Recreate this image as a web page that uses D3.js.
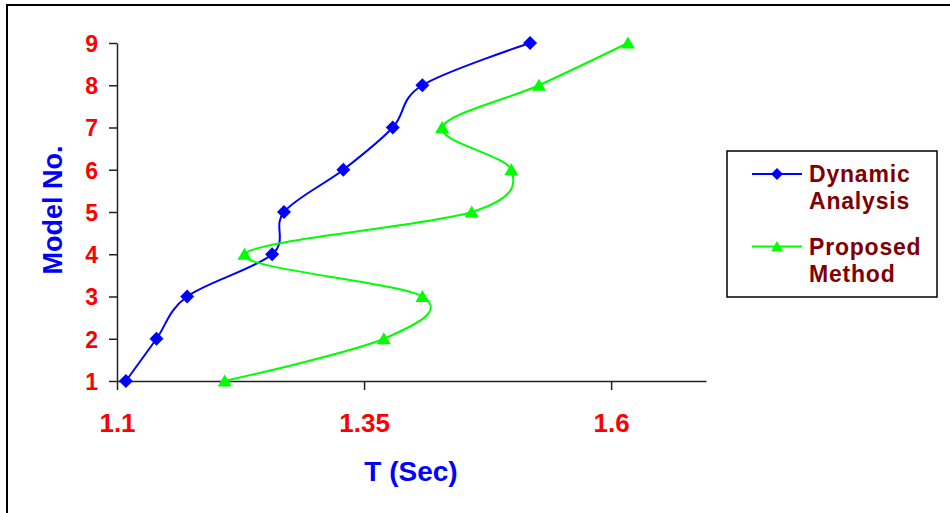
<!DOCTYPE html>
<html><head><meta charset="utf-8">
<script src="https://cdn.jsdelivr.net/npm/d3@7"></script>
<style>html,body{margin:0;padding:0;background:#fff;overflow:hidden}</style>
</head><body>
<svg id="c" width="950" height="513"></svg>
<script>
const models = [1, 2, 3, 4, 5, 6, 7, 8, 9];
const dynamicT = [1.109, 1.140, 1.171, 1.257, 1.269, 1.329, 1.379, 1.409, 1.518];
const proposedT = [1.209, 1.370, 1.409, 1.229, 1.459, 1.499, 1.429, 1.527, 1.617];
const xTicks = [1.1, 1.35, 1.6];
const xTickLabels = ["1.1", "1.35", "1.6"];
const seriesNames = [["Dynamic", "Analysis"], ["Proposed", "Method"]];

const svg = d3.select("#c");
const font = "'Liberation Sans', Arial, sans-serif";

// outer frame
svg.append("rect").attr("x", 7).attr("y", 5).attr("width", 960).attr("height", 520)
  .attr("fill", "#fff").attr("stroke", "#000").attr("stroke-width", 2);

const x = d3.scaleLinear().domain([1.1, 1.696]).range([117, 706]);
const y = d3.scaleLinear().domain([1, 9]).range([381, 43]);

// y axis
const yAxis = svg.append("g").attr("transform", "translate(117,0)")
  .call(d3.axisLeft(y).tickValues(models).tickSize(8).tickSizeOuter(0).tickPadding(11));
yAxis.select(".domain").attr("stroke", "#222").attr("stroke-width", 1.5);
yAxis.selectAll(".tick line").attr("stroke", "#222").attr("stroke-width", 1.5);
yAxis.selectAll(".tick text").attr("fill", "#ff0000").attr("font-family", font)
  .attr("font-weight", "bold").attr("font-size", 23).attr("dy", "0.36em");

// x axis
const xAxis = svg.append("g").attr("transform", "translate(0,381)")
  .call(d3.axisBottom(x).tickValues(xTicks).tickFormat((d, i) => xTickLabels[i]).tickSize(9).tickSizeOuter(0));
xAxis.select(".domain").attr("stroke", "#222").attr("stroke-width", 1.5);
xAxis.selectAll(".tick line").attr("stroke", "#222").attr("stroke-width", 1.5);
xAxis.selectAll(".tick text").attr("fill", "#ff0000").attr("font-family", font)
  .attr("font-weight", "bold").attr("font-size", 26).attr("y", 51).attr("dy", 0);

// axis titles
svg.append("text").attr("transform", "translate(62,210) rotate(-90)")
  .attr("text-anchor", "middle").attr("fill", "#0000ff").attr("font-family", font)
  .attr("font-weight", "bold").attr("font-size", 27).text("Model No.");
svg.append("text").attr("x", 411).attr("y", 481)
  .attr("text-anchor", "middle").attr("fill", "#0000ff").attr("font-family", font)
  .attr("font-weight", "bold").attr("font-size", 28).text("T (Sec)");

const line = d3.line().x(d => x(d[0])).y(d => y(d[1])).curve(d3.curveCardinal.tension(0));

const diamond = "M0,-7L7,0L0,7L-7,0Z";
const triangle = "M0,-6.5L7,5.5L-7,5.5Z";

const series = [
  {vals: dynamicT, color: "#0000ff", marker: diamond},
  {vals: proposedT, color: "#00ff00", marker: triangle}
];

series.forEach(s => {
  const pts = s.vals.map((v, i) => [v, models[i]]);
  svg.append("path").datum(pts).attr("d", line).attr("fill", "none")
    .attr("stroke", s.color).attr("stroke-width", 2);
  svg.append("g").selectAll("path").data(pts).join("path")
    .attr("transform", d => `translate(${x(d[0])},${y(d[1])})`)
    .attr("d", s.marker).attr("fill", s.color);
});

// legend
svg.append("rect").attr("x", 727).attr("y", 151).attr("width", 210).attr("height", 146)
  .attr("fill", "#fff").attr("stroke", "#000").attr("stroke-width", 1.5);
const legY = [174, 246.5];
series.forEach((s, i) => {
  svg.append("line").attr("x1", 752).attr("x2", 802).attr("y1", legY[i]).attr("y2", legY[i])
    .attr("stroke", s.color).attr("stroke-width", 2);
  svg.append("path").attr("transform", `translate(777,${legY[i]}) scale(0.85)`).attr("d", s.marker).attr("fill", s.color);
  seriesNames[i].forEach((t, j) => {
    svg.append("text").attr("x", 809).attr("y", legY[i] + 8 + j * 27)
      .attr("fill", "#800000").attr("font-family", font).attr("font-weight", "bold")
      .attr("font-size", 23).attr("letter-spacing", 0.8).text(t);
  });
});
</script>
</body></html>
